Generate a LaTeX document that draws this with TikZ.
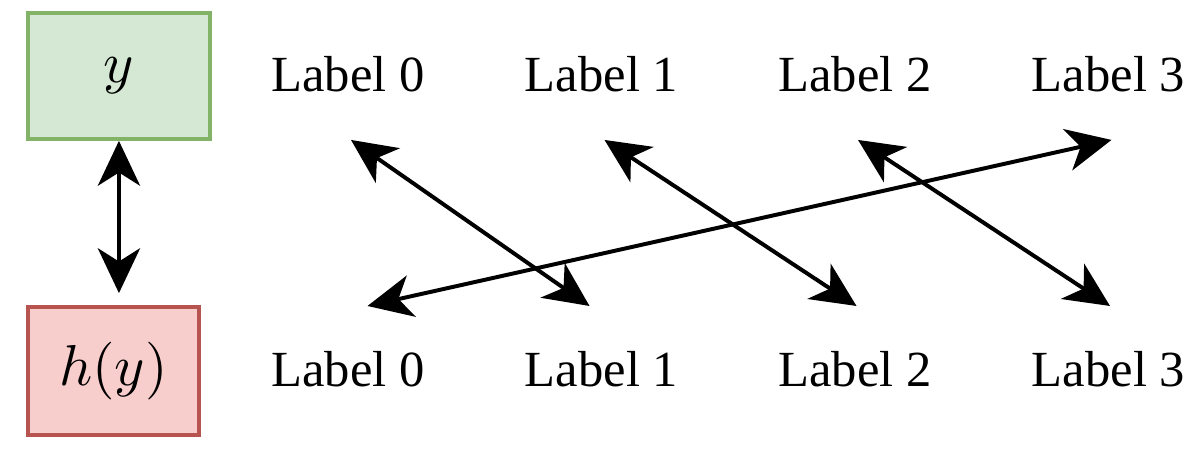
\documentclass[tikz,border=0pt]{standalone}
\usepackage{fontspec}
\setmainfont{Liberation Serif}
\usetikzlibrary{arrows.meta, calc, positioning}
\usepackage{xcolor}
\definecolor{boxgreen}{HTML}{D5E8D4}
\definecolor{linegreen}{HTML}{82B366}
\definecolor{boxred}{HTML}{F8CECC}
\definecolor{linered}{HTML}{B85450}

\begin{document}
\begin{tikzpicture}[
  lbl/.style={font=\fontsize{9.6}{11}\selectfont, inner sep=0pt, anchor=base},
  var/.style={draw, line width=0.7pt, minimum height=0.84cm, font=\fontsize{10.5}{12}\selectfont},
  dbl/.style={{Stealth[length=8.5pt,width=8pt,inset=2.5pt]}-{Stealth[length=8.5pt,width=8pt,inset=2.5pt]}, line width=0.75pt}
]
\useasboundingbox (0,0) rectangle (8,3.04);
\node (y) [var, fill=boxgreen, draw=linegreen, minimum width=1.213cm] at (0.793,2.533) {$y$};
\node (hy) [var, fill=boxred, draw=linered, minimum width=1.14cm, minimum height=0.853cm] at (0.757,0.567) {$h(y)$};
\draw [dbl, shorten >=0.08cm] (y.south) -- (y.south |- hy.north);
\foreach \i in {0,...,3} {
  \node (top\i) [lbl] at (2.32+1.69*\i, 2.427) {Label \i};
  \node (bot\i) [lbl] at (2.32+1.69*\i, 0.46) {Label \i};
  \coordinate (s\i) at ($(top\i.base)+(0.02,-0.32)$);
  \coordinate (e\i) at ($(bot\i.base)+(0.01,0.54)$);
}
\coordinate (w) at ($(bot0.base)+(0.13,0.54)$);
\coordinate (e1) at ($(bot1.base)+(-0.08,0.54)$);
\draw [dbl] (s0) -- (e1);
\draw [dbl] (s1) -- (e2);
\draw [dbl] (s2) -- (e3);
\draw [dbl] (w) -- (s3);
\end{tikzpicture}
\end{document}
